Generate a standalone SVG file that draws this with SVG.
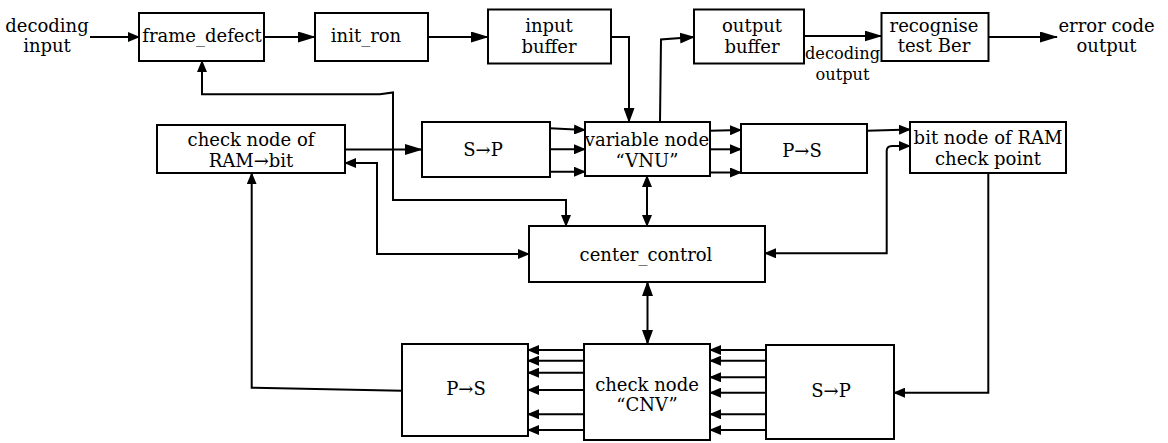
<svg xmlns="http://www.w3.org/2000/svg" width="1168" height="443" viewBox="0 0 1168 443">
<style>
  .box { fill: #fff; stroke: #000; stroke-width: 2; }
  text { font-family: "DejaVu Serif", "Liberation Serif", serif; font-size: 18px; fill: #000; text-anchor: middle; }
  .sm { font-size: 16.2px; }
  .c { fill: none; stroke: #000; stroke-width: 2; }
  .b { marker-end: url(#big); }
  .m { marker-end: url(#mid); }
  .s { marker-end: url(#sml); }
  .bb { marker-start: url(#big); marker-end: url(#big); }
  .ss { marker-start: url(#sml); marker-end: url(#sml); }
</style>
<defs>
  <marker id="big" viewBox="0 0 18 11" refX="17" refY="5.5" markerWidth="18" markerHeight="11" markerUnits="userSpaceOnUse" orient="auto-start-reverse">
    <path d="M0,0 L18,5.5 L0,11 Z" fill="#000"/>
  </marker>
  <marker id="mid" viewBox="0 0 15 11" refX="14" refY="5.5" markerWidth="15" markerHeight="11" markerUnits="userSpaceOnUse" orient="auto-start-reverse">
    <path d="M0,0 L15,5.5 L0,11 Z" fill="#000"/>
  </marker>
  <marker id="sml" viewBox="0 0 12 10" refX="11" refY="5" markerWidth="12" markerHeight="10" markerUnits="userSpaceOnUse" orient="auto-start-reverse">
    <path d="M0,0 L12,5 L0,10 Z" fill="#000"/>
  </marker>
</defs>

<g id="connectors">
  <path class="c s" d="M90,37 L139,37"/>
  <path class="c b" d="M264,37 L315,37"/>
  <path class="c b" d="M428,37 L488,37"/>
  <path class="c m" d="M611,37 L629,37 L629,122"/>
  <path class="c m" d="M660,122 L661,39.5 L694,37"/>
  <path class="c b" d="M804,36 L881.5,36"/>
  <path class="c b" d="M988,37 L1057,37"/>
  <path class="c b" d="M345,149.5 L422,149.5"/>
  <path class="c ss" d="M345,163 L377,163 L377,254 L529,254"/>
  <path class="c ss" d="M202,61 L202,94.3 L380,94.3 L393,92.5 L393,200 L566,200 L566,226"/>
  <path class="c s" d="M550,128.3 L585,130"/>
  <path class="c s" d="M550,149.3 L585,149.3"/>
  <path class="c s" d="M550,171.7 L585,171.7"/>
  <path class="c s" d="M710,130.7 L741,130"/>
  <path class="c s" d="M710,149.3 L741,149.3"/>
  <path class="c s" d="M710,172.5 L741,172.5"/>
  <path class="c ss" d="M647,176 L647,226"/>
  <path class="c s" d="M867,130.7 L910,129.5"/>
  <path class="c ss" d="M765,253.3 L886.7,253.3 L886.7,151 Q886.7,146 892,146 L910,146"/>
  <path class="c s" d="M988.3,173 L988.3,392.7 L894,392.7"/>
  <path class="c" d="M647.5,282 L647.5,344" style="marker-start:url(#mid);marker-end:url(#mid)"/>
  <path class="c s" d="M766,350 L710,350"/>
  <path class="c s" d="M766,360.7 L710,360.7"/>
  <path class="c s" d="M766,377.3 L710,377.3"/>
  <path class="c s" d="M766,392.7 L710,392.7"/>
  <path class="c s" d="M766,414.3 L710,414.3"/>
  <path class="c s" d="M766,430 L710,430"/>
  <path class="c s" d="M584,350 L528,350"/>
  <path class="c s" d="M584,360.7 L528,360.7"/>
  <path class="c s" d="M584,372.7 L528,372.7"/>
  <path class="c s" d="M584,390 L528,390"/>
  <path class="c s" d="M584,414.3 L528,414.3"/>
  <path class="c s" d="M584,430 L528,430"/>
  <path class="c s" d="M402,390.7 L251.7,387.7 L251.7,173.3"/>
</g>

<g id="label-decoding-input">
  <text x="47" y="32">decoding</text>
  <text x="47" y="52">input</text>
</g>
<g id="node-frame-defect">
  <rect class="box" x="139" y="13" width="125" height="48"/>
  <text x="202" y="42">frame_defect</text>
</g>
<g id="node-init-ron">
  <rect class="box" x="315" y="13" width="113" height="48"/>
  <text x="366" y="42">init_ron</text>
</g>
<g id="node-input-buffer">
  <rect class="box" x="488" y="9.5" width="123" height="54"/>
  <text x="549" y="32">input</text>
  <text x="549" y="53">buffer</text>
</g>
<g id="node-output-buffer">
  <rect class="box" x="694" y="9.5" width="110" height="54"/>
  <text x="752" y="32">output</text>
  <text x="752" y="53">buffer</text>
</g>
<g id="label-decoding-output">
  <text class="sm" x="842.5" y="59">decoding</text>
  <text class="sm" x="842.5" y="80">output</text>
</g>
<g id="node-recognise">
  <rect class="box" x="881.5" y="13" width="107" height="48"/>
  <text x="934" y="32">recognise</text>
  <text x="934" y="52">test Ber</text>
</g>
<g id="label-error-code-output">
  <text x="1106.5" y="32">error code</text>
  <text x="1106.5" y="52">output</text>
</g>
<g id="node-check-node-ram">
  <rect class="box" x="157" y="125" width="188" height="48"/>
  <text x="251" y="146">check node of</text>
  <text x="251" y="167">RAM→bit</text>
</g>
<g id="node-sp-top">
  <rect class="box" x="422" y="122" width="128" height="55"/>
  <text x="483" y="156">S→P</text>
</g>
<g id="node-vnu">
  <rect class="box" x="585" y="122" width="125" height="54"/>
  <text x="647" y="145.5">variable node</text>
  <text x="647" y="166.5">“VNU”</text>
</g>
<g id="node-ps-top">
  <rect class="box" x="741" y="124" width="126" height="49"/>
  <text x="802" y="156.5">P→S</text>
</g>
<g id="node-bit-node">
  <rect class="box" x="910" y="122" width="156" height="51"/>
  <text x="988" y="144">bit node of RAM</text>
  <text x="988" y="165">check point</text>
</g>
<g id="node-center-control">
  <rect class="box" x="529" y="226" width="236" height="56"/>
  <text x="646" y="261">center_control</text>
</g>
<g id="node-ps-bottom">
  <rect class="box" x="402" y="344" width="126" height="92"/>
  <text x="466" y="395">P→S</text>
</g>
<g id="node-cnv">
  <rect class="box" x="584" y="344" width="126" height="96"/>
  <text x="647" y="390.5">check node</text>
  <text x="647" y="410.5">“CNV”</text>
</g>
<g id="node-sp-bottom">
  <rect class="box" x="766" y="345" width="128" height="94"/>
  <text x="831" y="396.5">S→P</text>
</g>
</svg>
